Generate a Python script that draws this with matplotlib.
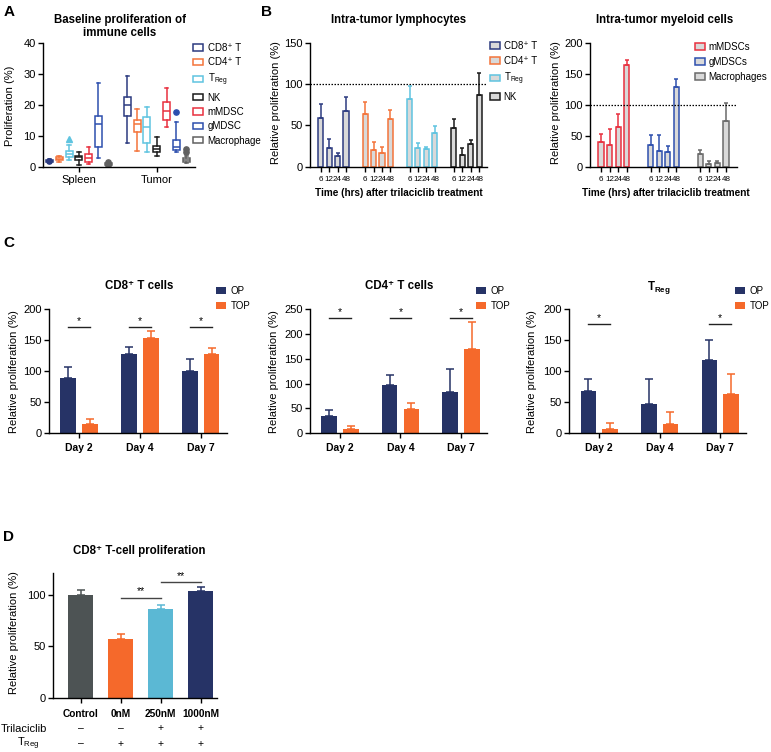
import matplotlib
matplotlib.use('Agg')
import matplotlib.pyplot as plt
from matplotlib.patches import Patch
from matplotlib import font_manager
import numpy as np

plt.rcParams['font.family'] = ['Liberation Sans', 'DejaVu Sans']
plt.rcParams['mathtext.fontset'] = 'custom'
plt.rcParams['mathtext.rm'] = 'Liberation Sans'
plt.rcParams['mathtext.it'] = 'Liberation Sans:italic'
plt.rcParams['mathtext.bf'] = 'Liberation Sans:bold'
plt.rcParams['axes.linewidth'] = 1.0

_names = {f.name for f in font_manager.fontManager.ttflist}
NARROW = ['Liberation Sans Narrow', 'Liberation Sans'] if 'Liberation Sans Narrow' in _names else ['Liberation Sans']

# ---------------- Data ----------------
# Panel A: baseline proliferation (box plot statistics, %)
cell_types = ['CD8⁺ T', 'CD4⁺ T', r'T$_{\mathrm{Reg}}$', 'NK', 'mMDSC', 'gMDSC', 'Macrophage']
tissues = ['Spleen', 'Tumor']
a_whislo_spleen = [1.3, 1.5, 2.3, 0.5, 0.9, 2.9, 0.2]
a_q1_spleen = [1.5, 2.1, 3.0, 2.3, 1.6, 6.4, 0.4]
a_med_spleen = [1.8, 2.6, 4.0, 3.0, 2.7, 13.7, 0.7]
a_q3_spleen = [2.1, 3.0, 5.2, 3.5, 4.0, 16.5, 1.1]
a_whishi_spleen = [2.4, 3.5, 7.1, 4.8, 6.5, 26.9, 1.4]
a_fliers_spleen = [[1.8], [], [9.0], [], [], [], [1.5, 1.0, 0.6]]
a_whislo_tumor = [7.5, 5.2, 4.6, 3.4, 12.9, 4.8, 1.1]
a_q1_tumor = [16.5, 11.3, 7.5, 4.6, 15.1, 5.4, 1.6]
a_med_tumor = [19.9, 13.7, 12.7, 5.7, 18.0, 6.5, 2.1]
a_q3_tumor = [22.6, 15.1, 15.9, 6.8, 21.0, 8.6, 2.9]
a_whishi_tumor = [29.4, 18.7, 19.4, 9.7, 25.3, 14.3, 3.6]
a_fliers_tumor = [[], [], [], [], [], [17.5], [4.6, 5.6]]

# Panel B: relative proliferation after trilaciclib (%)
times = ['6', '12', '24', '48']
b_lym_groups = ['CD8⁺ T', 'CD4⁺ T', r'T$_{\mathrm{Reg}}$', 'NK']
b_lym_vals = [[58.8, 22.8, 12.8, 66.8],
              [64.0, 19.6, 16.0, 57.2],
              [82.0, 22.8, 21.6, 40.4],
              [46.8, 14.0, 27.6, 86.8]]
b_lym_err = [[16.8, 10.4, 4.0, 17.2],
             [14.8, 10.4, 8.0, 11.6],
             [15.6, 6.4, 2.4, 9.2],
             [10.4, 9.2, 4.4, 26.8]]
b_mye_groups = ['mMDSCs', 'gMDSCs', 'Macrophages']
b_mye_vals = [[40.0, 35.7, 64.0, 164.8],
              [35.7, 26.1, 24.0, 128.5],
              [20.3, 4.8, 6.4, 73.6]]
b_mye_err = [[12.3, 26.2, 21.9, 8.5],
             [15.5, 25.1, 10.1, 13.4],
             [6.9, 4.3, 3.2, 30.4]]

# Panel C: OP vs TOP
days = ['Day 2', 'Day 4', 'Day 7']
c_cd8_op = [89.8, 128.0, 100.5]
c_cd8_op_err = [16.7, 11.8, 19.4]
c_cd8_top = [15.0, 153.8, 128.0]
c_cd8_top_err = [7.6, 10.7, 9.6]
c_cd4_op = [35.6, 96.8, 84.0]
c_cd4_op_err = [11.4, 20.8, 45.0]
c_cd4_top = [9.4, 49.7, 170.0]
c_cd4_top_err = [5.4, 12.1, 55.0]
c_treg_op = [67.7, 47.3, 117.7]
c_treg_op_err = [19.9, 40.3, 33.3]
c_treg_top = [7.5, 14.5, 63.4]
c_treg_top_err = [8.6, 20.5, 31.8]
c_cd8_sig = ['*', '*', '*']
c_cd4_sig = ['*', '*', '*']
c_treg_sig = ['*', '', '*']
c_cd8_sig_y = 171
c_cd4_sig_y = 232
c_treg_sig_y = 176

# Panel D
d_labels = ['Control', '0nM', '250nM', '1000nM']
d_vals = [100.0, 57.1, 86.3, 103.9]
d_err = [5.0, 4.6, 3.6, 4.2]
d_trilaciclib = ['–', '–', '+', '+']
d_treg = ['–', '+', '+', '+']
d_sig_pairs = [(1, 2), (2, 3)]
d_sig_y = [97.4, 112.3]
d_sig_text = ['**', '**']

# ---------------- Styles ----------------
a_colors = ['#2c3b80', '#f4743b', '#5fc4e0', '#1a1a1a', '#e8303f', '#2d4fae', '#606060']
a_markers = ['o', 'o', '^', 'o', 'o', 'o', 'o']
b_lym_colors = ['#2c3b80', '#f4743b', '#5fc4e0', '#1a1a1a']
b_mye_colors = ['#e8303f', '#2d4fae', '#6a6a6a']
bar_fill = '#d9d9d9'
navy = '#263366'
orange = '#f5692b'
d_colors = ['#4d5354', '#f5692b', '#5bb8d4', '#263366']

TICK_FS = 8
YLAB_FS = 8
TITLE_FS = 8.3

W, H = 771, 752
fig = plt.figure(figsize=(W / 100, H / 100), dpi=100)


def add_ax(l, t, r, b):
    ax = fig.add_axes([l / W, 1 - b / H, (r - l) / W, (b - t) / H])
    ax.spines['top'].set_visible(False)
    ax.spines['right'].set_visible(False)
    ax.tick_params(direction='out', length=3.3, width=1.0, labelsize=TICK_FS, pad=2)
    return ax


def ftext(x, y, s, **kw):
    kw.setdefault('ha', 'center')
    kw.setdefault('va', 'center')
    return fig.text(x / W, 1 - y / H, s, **kw)


# ---------------- Panel A ----------------
axA = add_ax(43, 42.7, 195, 166.7)
offs = (np.arange(7) - 3) * 0.126
spleen = (a_whislo_spleen, a_q1_spleen, a_med_spleen, a_q3_spleen, a_whishi_spleen, a_fliers_spleen)
tumor = (a_whislo_tumor, a_q1_tumor, a_med_tumor, a_q3_tumor, a_whishi_tumor, a_fliers_tumor)
for gi, (lo, q1, med, q3, hi, fl) in enumerate([spleen, tumor]):
    for i in range(7):
        c = a_colors[i]
        st = dict(whislo=lo[i], q1=q1[i], med=med[i], q3=q3[i], whishi=hi[i], fliers=[])
        pos = gi + offs[i]
        axA.bxp([st], positions=[pos], widths=0.09, showfliers=False, patch_artist=True,
                capwidths=0.045,
                boxprops=dict(facecolor='white', edgecolor=c, lw=1.1),
                whiskerprops=dict(color=c, lw=1.1), capprops=dict(color=c, lw=1.1),
                medianprops=dict(color=c, lw=1.1))
        if fl[i]:
            axA.plot([pos] * len(fl[i]), fl[i], ls='none', marker=a_markers[i], ms=3.8,
                     color=c, mec=c)
axA.set_xlim(-0.46, 1.49)
axA.set_ylim(0, 40)
axA.set_yticks([0, 10, 20, 30, 40])
axA.set_xticks([0, 1])
axA.set_xticklabels(tissues, fontsize=TICK_FS)
axA.tick_params(axis='x', pad=3)
ftext(10, 106, 'Proliferation (%)', rotation=90, fontsize=YLAB_FS)
ftext(120, 20, 'Baseline proliferation of', fontsize=TITLE_FS, fontweight='bold')
ftext(120, 33, 'immune cells', fontsize=TITLE_FS, fontweight='bold')
hA = [Patch(facecolor='white', edgecolor=c, lw=1.1) for c in a_colors]
fig.legend(hA, cell_types, loc='upper left', bbox_to_anchor=(193 / W, 1 - 43 / H),
           frameon=False, fontsize=7, handlelength=1.0, handleheight=0.65,
           handletextpad=0.5, labelspacing=0.45, borderpad=0, borderaxespad=0)

# ---------------- Panel B ----------------
def bar_panel_b(ax, vals, errs, colors, gspace, xlim, ylim, yticks):
    xt = []
    for g in range(len(vals)):
        x = g * gspace + np.arange(4)
        c = colors[g]
        ax.bar(x, vals[g], width=0.6, color=bar_fill, edgecolor=c, lw=1.1,
               yerr=[np.zeros(4), errs[g]],
               error_kw=dict(ecolor=c, elinewidth=1.1, capsize=1.6, capthick=1.1))
        xt.extend(x)
    ax.axhline(100, color='black', ls=(0, (1.2, 1.2)), lw=0.9)
    ax.set_xlim(*xlim)
    ax.set_ylim(*ylim)
    ax.set_yticks(yticks)
    ax.set_xticks(xt)
    ax.set_xticklabels(times * len(vals), fontsize=5.8, family=NARROW)
    ax.tick_params(axis='x', length=3.6, pad=3.2)


axB1 = add_ax(310, 42.7, 487, 166.7)
bar_panel_b(axB1, b_lym_vals, b_lym_err, b_lym_colors, 5.27, (-1.27, 19.73), (0, 150), [0, 50, 100, 150])
axB2 = add_ax(590, 43.3, 737, 166.7)
bar_panel_b(axB2, b_mye_vals, b_mye_err, b_mye_colors, 5.79, (-1.28, 15.87), (0, 200), [0, 50, 100, 150, 200])

ftext(399, 20, 'Intra-tumor lymphocytes', fontsize=TITLE_FS, fontweight='bold')
ftext(665, 20, 'Intra-tumor myeloid cells', fontsize=TITLE_FS, fontweight='bold')
ftext(399, 193, 'Time (hrs) after trilaciclib treatment', fontsize=7.2, fontweight='bold')
ftext(666, 193, 'Time (hrs) after trilaciclib treatment', fontsize=7.2, fontweight='bold')
ftext(276, 103, 'Relative proliferation (%)', rotation=90, fontsize=YLAB_FS)
ftext(556, 103, 'Relative proliferation (%)', rotation=90, fontsize=YLAB_FS)
hB1 = [Patch(facecolor=bar_fill, edgecolor=c, lw=1.1) for c in b_lym_colors]
fig.legend(hB1, b_lym_groups, loc='upper left', bbox_to_anchor=(490 / W, 1 - 41 / H),
           frameon=False, fontsize=7, handlelength=1.0, handleheight=0.65,
           handletextpad=0.4, labelspacing=0.5, borderpad=0, borderaxespad=0)
hB2 = [Patch(facecolor=bar_fill, edgecolor=c, lw=1.1) for c in b_mye_colors]
fig.legend(hB2, b_mye_groups, loc='upper left', bbox_to_anchor=(695 / W, 1 - 42 / H),
           frameon=False, fontsize=7, handlelength=1.0, handleheight=0.65,
           handletextpad=0.4, labelspacing=0.5, borderpad=0, borderaxespad=0)

# ---------------- Panel C ----------------
def bar_panel_c(ax, op, ope, top, tope, sig, sig_y, ylim, yticks):
    x = np.arange(len(days))
    d = 0.179
    ax.bar(x - d, op, 0.255, color=navy, yerr=[np.zeros(3), ope],
           error_kw=dict(ecolor=navy, elinewidth=1.1, capsize=2.8, capthick=1.1))
    ax.bar(x + d, top, 0.255, color=orange, yerr=[np.zeros(3), tope],
           error_kw=dict(ecolor=orange, elinewidth=1.1, capsize=2.8, capthick=1.1))
    for xi, s in zip(x, sig):
        if s:
            ax.plot([xi - d, xi + d], [sig_y, sig_y], color='#222222', lw=1.0)
            ax.text(xi, sig_y + ylim[1] * 0.012, s, ha='center', va='bottom', fontsize=7.5)
    ax.set_xlim(-0.495, 2.43)
    ax.set_ylim(*ylim)
    ax.set_yticks(yticks)
    ax.set_xticks(x)
    ax.set_xticklabels(days, fontsize=7.5, fontweight='bold')
    ax.tick_params(axis='x', pad=4)


axC1 = add_ax(49, 309.3, 227, 433.3)
bar_panel_c(axC1, c_cd8_op, c_cd8_op_err, c_cd8_top, c_cd8_top_err, c_cd8_sig, c_cd8_sig_y,
            (0, 200), [0, 50, 100, 150, 200])
axC2 = add_ax(310, 309.3, 487, 433.3)
bar_panel_c(axC2, c_cd4_op, c_cd4_op_err, c_cd4_top, c_cd4_top_err, c_cd4_sig, c_cd4_sig_y,
            (0, 250), [0, 50, 100, 150, 200, 250])
axC3 = add_ax(569.3, 309.3, 746, 433.3)
bar_panel_c(axC3, c_treg_op, c_treg_op_err, c_treg_top, c_treg_top_err, c_treg_sig, c_treg_sig_y,
            (0, 200), [0, 50, 100, 150, 200])

ftext(139, 286, 'CD8⁺ T cells', fontsize=TITLE_FS, fontweight='bold')
ftext(399, 286, 'CD4⁺ T cells', fontsize=TITLE_FS, fontweight='bold')
ftext(659, 288, r'T$_{\mathbf{Reg}}$', fontsize=TITLE_FS, fontweight='bold')
for xl in (14, 274, 532):
    ftext(xl, 372, 'Relative proliferation (%)', rotation=90, fontsize=YLAB_FS)
for lx in (216, 476, 735):
    fig.legend([Patch(facecolor=navy), Patch(facecolor=orange)], ['OP', 'TOP'],
               loc='upper left', bbox_to_anchor=(lx / W, 1 - 286 / H),
               frameon=False, fontsize=7, handlelength=1.0, handleheight=0.7,
               handletextpad=0.5, labelspacing=0.5, borderpad=0, borderaxespad=0)

# ---------------- Panel D ----------------
axD = add_ax(53.3, 573.3, 216.7, 697.7)
xd = np.arange(len(d_labels))
for i in range(len(d_labels)):
    axD.bar(xd[i], d_vals[i], 0.625, color=d_colors[i], yerr=[[0], [d_err[i]]],
            error_kw=dict(ecolor=d_colors[i], elinewidth=1.1, capsize=3.2, capthick=1.1))
for (i, j), y, s in zip(d_sig_pairs, d_sig_y, d_sig_text):
    axD.plot([xd[i], xd[j]], [y, y], color='#444444', lw=1.0)
    axD.text((xd[i] + xd[j]) / 2, y + 1.5, s, ha='center', va='bottom', fontsize=7.5)
axD.set_xlim(-0.685, 3.4)
axD.set_ylim(0, 121)
axD.set_yticks([0, 50, 100])
axD.set_xticks(xd)
axD.set_xticklabels(d_labels, fontsize=7.3, fontweight='bold')
axD.tick_params(axis='x', pad=5)
ftext(139, 551, 'CD8⁺ T-cell proliferation', fontsize=TITLE_FS, fontweight='bold')
ftext(14, 633, 'Relative proliferation (%)', rotation=90, fontsize=YLAB_FS)
ftext(1, 728.5, 'Trilaciclib', fontsize=8, ha='left')
ftext(28, 743.5, r'T$_{\mathrm{Reg}}$', fontsize=8)
for i in range(len(d_labels)):
    xpx = 80.7 + 40 * xd[i]
    ftext(xpx, 728.5, d_trilaciclib[i], fontsize=7.5)
    ftext(xpx, 743.5, d_treg[i], fontsize=7.5)

# Panel letters
for lbl, x, y in (('A', 9, 12), ('B', 267, 12), ('C', 9, 243), ('D', 9, 537)):
    ftext(x, y, lbl, fontsize=11, fontweight='bold')

fig.savefig('out.png', dpi=100)
